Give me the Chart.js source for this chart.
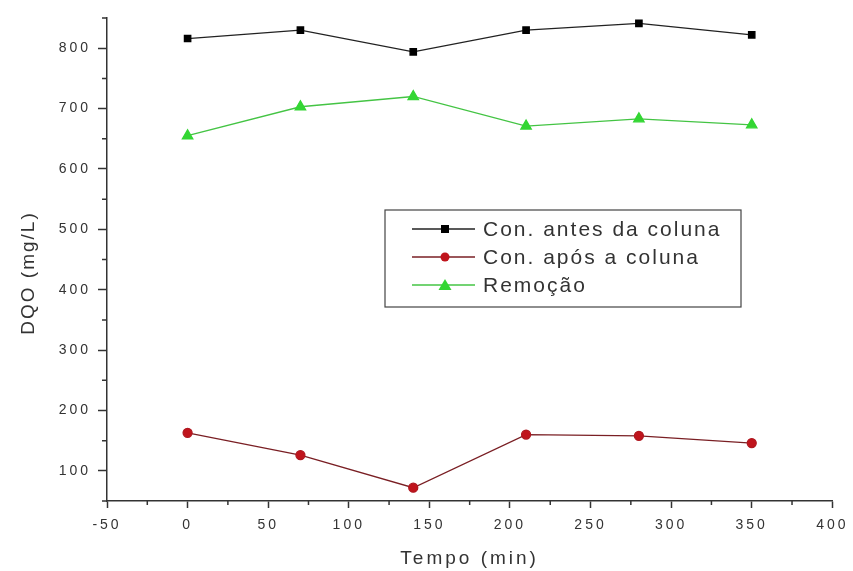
<!DOCTYPE html>
<html>
<head>
<meta charset="utf-8">
<script src="https://cdn.jsdelivr.net/npm/chart.js@4.4.1/dist/chart.umd.min.js"></script>
<style>
  html, body { margin: 0; padding: 0; background: #fff; }
  #wrap { width: 853px; height: 571px; position: relative; }
</style>
</head>
<body>
<div id="wrap"><canvas id="chart"></canvas></div>
<script>
// tempo (min)
const tempo = [0, 70, 140, 210, 280, 350];
// DQO (mg/L)
const antesColuna = [816, 830, 794, 830, 841, 822];
const aposColuna = [163, 126, 72, 160, 158, 146];
const remocao = [655, 703, 720, 671, 683, 673];

const seriesLabels = ['Con. antes da coluna', 'Con. após a coluna', 'Remoção'];
const yTitle = 'DQO (mg/L)';

const xMinorTicks = [-25, 25, 75, 125, 175, 225, 275, 325, 375];
const yMinorTicks = [50, 150, 250, 350, 450, 550, 650, 750, 850];

function toPoints(values) {
    return tempo.map((t, i) => ({ x: t, y: values[i] }));
}

const axisColor = '#333';
const fontFamily = "'Liberation Sans', Arial, sans-serif";

// wide-spaced text like the original export
const spacingPlugin = {
    id: 'spacing',
    beforeDraw(chart) {
        chart.ctx.letterSpacing = '3px';
    }
};

// minor ticks, y title and boxed legend (line - marker - line)
const extrasPlugin = {
    id: 'extras',
    afterDraw(chart) {
        const ctx = chart.ctx;
        const xs = chart.scales.x;
        const ys = chart.scales.y;
        ctx.save();
        ctx.strokeStyle = axisColor;
        ctx.lineWidth = 1.5;
        ctx.beginPath();
        xMinorTicks.forEach(v => {
            const px = xs.getPixelForValue(v);
            ctx.moveTo(px, xs.top);
            ctx.lineTo(px, xs.top + 4);
        });
        yMinorTicks.forEach(v => {
            const py = ys.getPixelForValue(v);
            ctx.moveTo(ys.right, py);
            ctx.lineTo(ys.right - 5, py);
        });
        ctx.stroke();

        // y axis title
        ctx.save();
        ctx.translate(29, 273);
        ctx.rotate(-Math.PI / 2);
        ctx.fillStyle = '#333';
        ctx.font = '19px ' + fontFamily;
        ctx.letterSpacing = '2px';
        ctx.textAlign = 'center';
        ctx.textBaseline = 'middle';
        ctx.fillText(yTitle, 0, 0);
        ctx.restore();

        // legend box
        const bx = 385, by = 210, bw = 356, bh = 97;
        ctx.strokeStyle = '#444';
        ctx.lineWidth = 1.2;
        ctx.strokeRect(bx, by, bw, bh);

        const rowY = [229, 257, 285];
        chart.data.datasets.forEach((ds, i) => {
            const y = rowY[i];
            ctx.strokeStyle = ds.borderColor;
            ctx.lineWidth = 1.3;
            ctx.beginPath();
            ctx.moveTo(412, y);
            ctx.lineTo(475, y);
            ctx.stroke();
            ctx.fillStyle = ds.pointBackgroundColor;
            const mx = 445;
            ctx.beginPath();
            if (ds.pointStyle === 'rect') {
                ctx.rect(mx - 4, y - 4, 8, 8);
            } else if (ds.pointStyle === 'circle') {
                ctx.arc(mx, y, 4.5, 0, Math.PI * 2);
            } else {
                ctx.moveTo(mx, y - 6);
                ctx.lineTo(mx + 6.5, y + 5);
                ctx.lineTo(mx - 6.5, y + 5);
                ctx.closePath();
            }
            ctx.fill();

            ctx.fillStyle = '#333';
            ctx.font = '21px ' + fontFamily;
            ctx.letterSpacing = '2px';
            ctx.textBaseline = 'middle';
            ctx.textAlign = 'left';
            ctx.fillText(ds.label, 483, y + 1);
        });
        ctx.restore();
    }
};

new Chart(document.getElementById('chart'), {
    type: 'line',
    data: {
        datasets: [{
            label: seriesLabels[0],
            data: toPoints(antesColuna),
            borderColor: '#222',
            pointBackgroundColor: '#000',
            pointBorderColor: '#000',
            pointStyle: 'rect',
            pointRadius: 4.5,
            borderWidth: 1.3
        }, {
            label: seriesLabels[1],
            data: toPoints(aposColuna),
            borderColor: '#7a1f24',
            pointBackgroundColor: '#c0141c',
            pointBorderColor: '#b01820',
            pointStyle: 'circle',
            pointRadius: 4.5,
            borderWidth: 1.3
        }, {
            label: seriesLabels[2],
            data: toPoints(remocao),
            borderColor: '#44c444',
            pointBackgroundColor: '#33d633',
            pointBorderColor: '#33d633',
            pointStyle: 'triangle',
            pointRadius: 6,
            borderWidth: 1.3
        }]
    },
    options: {
        responsive: true,
        maintainAspectRatio: false,
        animation: false,
        layout: { padding: { left: 0, right: 20, top: 18, bottom: 0 } },
        plugins: {
            legend: { display: false },
            tooltip: { enabled: false }
        },
        scales: {
            x: {
                type: 'linear',
                min: -50,
                max: 400,
                border: { color: axisColor, width: 1.5 },
                grid: { drawOnChartArea: false, tickLength: 7, tickColor: axisColor, tickWidth: 1.5 },
                ticks: {
                    stepSize: 50,
                    padding: 9,
                    color: '#333',
                    font: { family: fontFamily, size: 14 },
                    maxRotation: 0
                },
                title: {
                    display: true,
                    text: 'Tempo (min)',
                    color: '#333',
                    font: { family: fontFamily, size: 19 },
                    padding: { top: 4, bottom: 1 }
                },
                afterFit(scale) { scale.height = 70; }
            },
            y: {
                min: 50,
                max: 850,
                border: { color: axisColor, width: 1.5 },
                grid: {
                    drawOnChartArea: false,
                    tickLength: 9,
                    tickWidth: 1.5,
                    tickColor: ctx => (ctx.tick && ctx.tick.value % 100 === 0) ? axisColor : 'rgba(0,0,0,0)'
                },
                ticks: {
                    stepSize: 50,
                    padding: 7,
                    color: '#333',
                    font: { family: fontFamily, size: 14 },
                    callback: v => (v % 100 === 0 && v >= 100 && v <= 800) ? v : ''
                },
                title: { display: false },
                afterFit(scale) { scale.width = 107; }
            }
        }
    },
    plugins: [spacingPlugin, extrasPlugin]
});
</script>
</body>
</html>
